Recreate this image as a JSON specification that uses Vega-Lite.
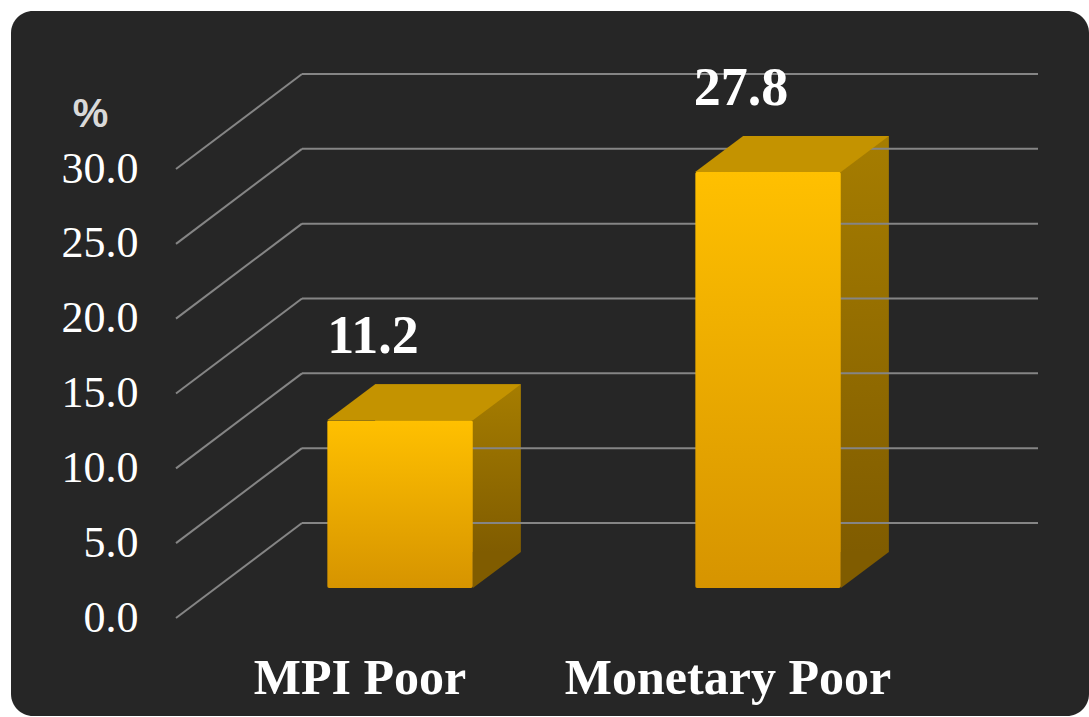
{
  "$schema": "https://vega.github.io/schema/vega-lite/v6.json",
  "width": 1078,
  "height": 705,
  "autosize": {"type": "none"},
  "padding": {"left": 11, "top": 11, "right": 0, "bottom": 1},
  "background": "#ffffff",
  "view": {"fill": "#262626", "stroke": null, "cornerRadius": 22},
  "datasets": {
    "bars": [
      {"label": "MPI Poor", "value": 11.2},
      {"label": "Monetary Poor", "value": 27.8}
    ],
    "ticks": [
      {"tick": 0}, {"tick": 5}, {"tick": 10}, {"tick": 15},
      {"tick": 20}, {"tick": 25}, {"tick": 30}
    ]
  },
  "layer": [
    {
      "data": {"name": "bars"},
      "mark": {
        "type": "bar", "xOffset": 48, "yOffset": -36,
        "color": {
          "gradient": "linear", "x1": 0, "y1": 0, "x2": 0, "y2": 1,
          "stops": [{"offset": 0, "color": "#a67d00"}, {"offset": 1, "color": "#805c00"}]
        }
      },
      "encoding": {
        "x": {
          "field": "label", "type": "nominal",
          "scale": {"range": [205, 941], "paddingInner": 0.604, "paddingOuter": 0.302},
          "axis": {
            "title": null, "labelAngle": 0, "labelOffset": -40, "offset": -23,
            "labelBaseline": "alphabetic", "labelPadding": 0, "labelLimit": 0,
            "ticks": false, "tickSize": 0, "domain": false, "grid": false,
            "labelFont": "Liberation Serif", "labelFontWeight": "bold",
            "labelFontSize": 50, "labelColor": "#ffffff"
          }
        },
        "y": {
          "field": "value", "type": "quantitative",
          "scale": {"domain": [0, 30], "range": [577, 128], "nice": false, "zero": true},
          "axis": {
            "title": "%", "titleAngle": 0, "titleX": -48, "titleY": 103,
            "titleAlign": "center", "titleBaseline": "middle",
            "titleFont": "Liberation Sans", "titleFontWeight": "bold",
            "titleFontSize": 40, "titleColor": "#d9d9d9",
            "values": [0, 5, 10, 15, 20, 25, 30], "format": ".1f",
            "labelOffset": 30, "offset": -127, "labelPadding": 0, "labelLimit": 0,
            "ticks": false, "tickSize": 0, "domain": false, "grid": false,
            "labelFlush": false, "labelOverlap": false, "labelBaseline": "middle",
            "labelFont": "Liberation Serif", "labelFontSize": 44, "labelColor": "#ffffff"
          }
        }
      }
    },
    {
      "data": {"name": "ticks"},
      "mark": {"type": "rule", "color": "#858585", "strokeWidth": 2, "yOffset": 30, "y2Offset": -65},
      "encoding": {
        "x": {"value": 165},
        "x2": {"value": 291},
        "y": {"field": "tick", "type": "quantitative"},
        "y2": {"field": "tick"}
      }
    },
    {
      "data": {"name": "ticks"},
      "mark": {"type": "rule", "color": "#858585", "strokeWidth": 2, "yOffset": -65},
      "encoding": {
        "x": {"value": 291},
        "x2": {"value": 1027},
        "y": {"field": "tick", "type": "quantitative"}
      }
    },
    {
      "data": {"name": "bars"},
      "mark": {
        "type": "point", "filled": true, "opacity": 1, "strokeWidth": 0,
        "color": "#c49300", "size": 59536,
        "shape": "M-0.5972,0L-0.2038,-0.2951L0.9906,-0.2951L0.5972,0Z"
      },
      "encoding": {
        "x": {"field": "label", "type": "nominal"},
        "y": {"field": "value", "type": "quantitative"}
      }
    },
    {
      "data": {"name": "bars"},
      "mark": {
        "type": "point", "filled": true, "opacity": 1, "strokeWidth": 0,
        "color": "#805c00", "size": 10000,
        "shape": "M0,-0.72L0.96,-0.72L0,0Z"
      },
      "encoding": {
        "x": {"field": "label", "type": "nominal", "bandPosition": 1},
        "y": {"datum": 0, "type": "quantitative"}
      }
    },
    {
      "data": {"name": "bars"},
      "mark": {
        "type": "bar", "cornerRadius": 2,
        "color": {
          "gradient": "linear", "x1": 0, "y1": 0, "x2": 0, "y2": 1,
          "stops": [{"offset": 0, "color": "#ffc000"}, {"offset": 1, "color": "#d69400"}]
        }
      },
      "encoding": {
        "x": {"field": "label", "type": "nominal"},
        "y": {"field": "value", "type": "quantitative"}
      }
    },
    {
      "data": {"name": "bars"},
      "mark": {
        "type": "text", "font": "Liberation Serif", "fontWeight": "bold",
        "fontSize": 54, "color": "#ffffff", "baseline": "alphabetic",
        "dx": -27, "dy": -67
      },
      "encoding": {
        "x": {"field": "label", "type": "nominal"},
        "y": {"field": "value", "type": "quantitative"},
        "text": {"field": "value", "format": ".1f"}
      }
    }
  ]
}
